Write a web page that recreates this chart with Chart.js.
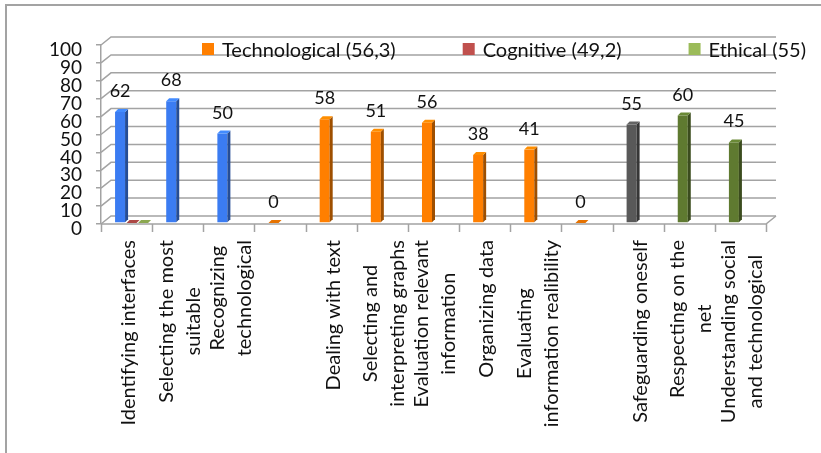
<!DOCTYPE html>
<html>
<head>
<meta charset="utf-8">
<script src="https://cdn.jsdelivr.net/npm/chart.js@4.4.1/dist/chart.umd.min.js"></script>
<style>
  html, body { margin: 0; padding: 0; background: #fff; }
  #frame { position: absolute; left: 5px; top: 4px; width: 816px; height: 449px;
           border-left: 2px solid #a3a3a3; border-top: 2px solid #a3a3a3; }
  #chart { position: absolute; left: 0; top: 0; }
</style>
</head>
<body>
<div id="frame"></div>
<canvas id="chart" width="821" height="453"></canvas>
<script>
// chart data
const categories = [
  ['Identifying interfaces'],
  ['Selecting the most', 'suitable'],
  ['Recognizing', 'technological'],
  [''],
  ['Dealing with text'],
  ['Selecting and', 'interpreting graphs'],
  ['Evaluation relevant', 'information'],
  ['Organizing data'],
  ['Evaluating', 'information realibility'],
  [''],
  ['Safeguarding oneself'],
  ['Respecting on the', 'net'],
  ['Understanding social', 'and technological']
];
const technological = [62, 68, 50, 0, 58, 51, 56, 38, 41, 0, 55, 60, 45];
const cognitive = [0, null, null, null, null, null, null, null, null, null, null, null, null];
const ethical = [0, null, null, null, null, null, null, null, null, null, null, null, null];
const seriesLabels = ['Technological (56,3)', 'Cognitive (49,2)', 'Ethical (55)'];
const legendColors = ['#ff7f00', '#c0504d', '#9bbb59'];
const barColors = [
  '#3b7cf2', '#3b7cf2', '#3b7cf2',
  '#ff7f00', '#ff7f00', '#ff7f00', '#ff7f00', '#ff7f00', '#ff7f00', '#ff7f00',
  '#595959', '#5f7a30', '#5f7a30'
];

const FONT = 'Lato, "Open Sans", sans-serif';
const WALL = { x: 10, y: -8 };      // back wall offset
const BAR_SHIFT = { x: 5, y: -1 };  // bars stand a little into the floor
const BAR_DEPTH = 3;
const GRID_COLOR = '#a3a3a3';

function shade(hex, f) {
  const n = parseInt(hex.slice(1), 16);
  const c = [(n >> 16) & 255, (n >> 8) & 255, n & 255].map(v => Math.min(255, Math.round(v * f)));
  return `rgb(${c[0]},${c[1]},${c[2]})`;
}

/**
 * Fake 3D: walls, floor, bar sides, value labels
 */
const threeD = {
  id: 'threeD',
  beforeDatasetsDraw(chart) {
    const { ctx, chartArea: a, scales: { x, y } } = chart;
    ctx.save();
    ctx.strokeStyle = GRID_COLOR;
    ctx.lineWidth = 1.5;
    y.ticks.forEach(t => {
      const py = y.getPixelForValue(t.value);
      ctx.beginPath();
      ctx.moveTo(a.left, py);
      ctx.lineTo(a.left + WALL.x, py + WALL.y);
      ctx.lineTo(a.right + WALL.x, py + WALL.y);
      ctx.stroke();
    });
    // floor front edge
    ctx.beginPath();
    ctx.moveTo(a.left, a.bottom);
    ctx.lineTo(a.right, a.bottom);
    ctx.lineTo(a.right + WALL.x, a.bottom + WALL.y);
    ctx.stroke();
    // category ticks
    for (let i = 0; i <= categories.length; i++) {
      const px = Math.round(x.getPixelForValue(i - 0.5)) + 0.5;
      ctx.beginPath();
      ctx.moveTo(px, a.bottom);
      ctx.lineTo(px, a.bottom + 8);
      ctx.stroke();
    }
    ctx.restore();

    ctx.save();
    ctx.translate(BAR_SHIFT.x, BAR_SHIFT.y);
  },
  afterDatasetsDraw(chart) {
    const { ctx } = chart;
    const d = BAR_DEPTH;
    chart.data.datasets.forEach((ds, di) => {
      const meta = chart.getDatasetMeta(di);
      meta.data.forEach((bar, i) => {
        const v = ds.data[i];
        if (v === null || v === undefined) return;
        const { x, y, base, width } = bar.getProps(['x', 'y', 'base', 'width'], true);
        const l = x - width / 2, r = x + width / 2;
        const c = Array.isArray(ds.backgroundColor) ? ds.backgroundColor[i] : ds.backgroundColor;
        if (v === 0) {
          ctx.fillStyle = shade(c, 0.9);
          ctx.beginPath();
          ctx.moveTo(l, base); ctx.lineTo(r, base);
          ctx.lineTo(r + d, base - d); ctx.lineTo(l + d, base - d);
          ctx.closePath(); ctx.fill();
          return;
        }
        ctx.fillStyle = shade(c, 0.62);
        ctx.beginPath();
        ctx.moveTo(r, y); ctx.lineTo(r + d, y - d);
        ctx.lineTo(r + d, base - d); ctx.lineTo(r, base);
        ctx.closePath(); ctx.fill();
        ctx.fillStyle = shade(c, 1.12);
        ctx.beginPath();
        ctx.moveTo(l, y); ctx.lineTo(l + d, y - d);
        ctx.lineTo(r + d, y - d); ctx.lineTo(r, y);
        ctx.closePath(); ctx.fill();
      });
    });

    // value labels for the first series
    const meta = chart.getDatasetMeta(0);
    ctx.font = `18px ${FONT}`;
    ctx.fillStyle = '#111';
    ctx.textAlign = 'center';
    ctx.textBaseline = 'alphabetic';
    meta.data.forEach((bar, i) => {
      const { x, y } = bar.getProps(['x', 'y'], true);
      ctx.fillText(String(technological[i]), x, y - 15);
    });
    ctx.restore();
  },
  afterDraw(chart) {
    const { ctx, chartArea: a, scales: { x } } = chart;
    ctx.save();
    // rotated category labels, lines centred on each other
    ctx.font = `20px ${FONT}`;
    ctx.fillStyle = '#111';
    ctx.textAlign = 'center';
    ctx.textBaseline = 'middle';
    categories.forEach((lines, i) => {
      const cx = x.getPixelForValue(i) + 2;
      const maxW = Math.max(...lines.map(s => ctx.measureText(s).width));
      const cy = a.bottom + 16 + maxW / 2;
      lines.forEach((s, j) => {
        const lx = cx + (j - (lines.length - 1) / 2) * 27;
        ctx.save();
        ctx.translate(lx, cy);
        ctx.rotate(-Math.PI / 2);
        ctx.fillText(s, 0, 0);
        ctx.restore();
      });
    });

    // legend sitting over the top of the walls
    ctx.font = `20px ${FONT}`;
    ctx.textAlign = 'left';
    let lx = 202;
    seriesLabels.forEach((label, i) => {
      ctx.fillStyle = legendColors[i];
      ctx.fillRect(lx, 43, 12, 12);
      ctx.fillStyle = '#111';
      ctx.fillText(label, lx + 20, 51);
      lx += 20 + ctx.measureText(label).width + 67;
    });
    ctx.restore();
  }
};

new Chart(document.getElementById('chart'), {
  type: 'bar',
  data: {
    labels: categories,
    datasets: [
      { label: seriesLabels[0], data: technological, backgroundColor: barColors },
      { label: seriesLabels[1], data: cognitive, backgroundColor: legendColors[1] },
      { label: seriesLabels[2], data: ethical, backgroundColor: legendColors[2] }
    ]
  },
  options: {
    responsive: false,
    animation: false,
    layout: { padding: { top: 45, right: 55, left: 0, bottom: 0 } },
    datasets: { bar: { categoryPercentage: 0.675, barPercentage: 0.87 } },
    scales: {
      x: {
        offset: true,
        grid: { display: false },
        border: { display: false },
        ticks: { display: false },
        afterFit: s => { s.height = 229; }
      },
      y: {
        min: 0,
        max: 100,
        grid: { drawOnChartArea: false, tickLength: 5, color: GRID_COLOR, lineWidth: 1.5 },
        border: { display: true, color: GRID_COLOR, width: 1.5 },
        ticks: {
          stepSize: 10,
          autoSkip: false,
          padding: 14,
          labelOffset: 5,
          color: '#111',
          font: { family: FONT, size: 19 }
        },
        afterFit: s => { s.width = 101; }
      }
    },
    plugins: {
      legend: { display: false },
      tooltip: { enabled: false }
    }
  },
  plugins: [threeD]
});
</script>
</body>
</html>
